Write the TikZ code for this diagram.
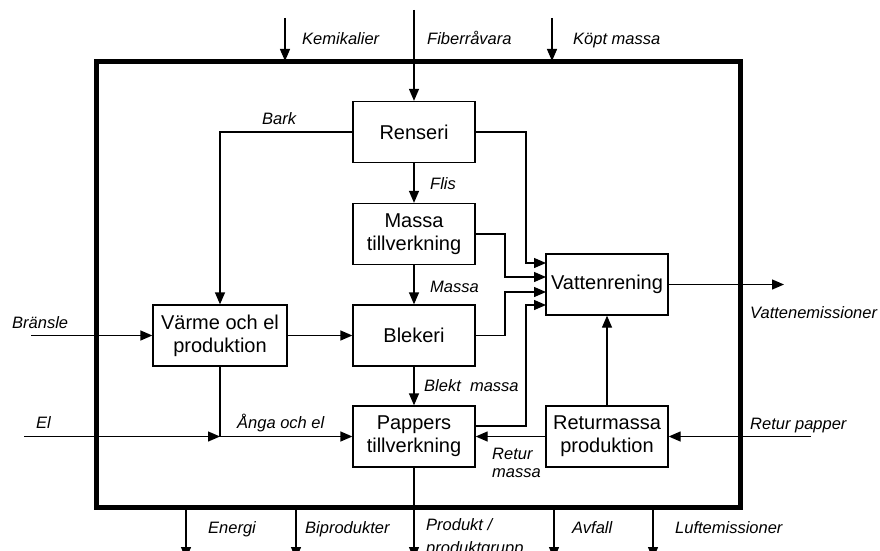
\documentclass[tikz,border=0pt]{standalone}
\usepackage{fontspec}
\setmainfont{Liberation Sans}
\usetikzlibrary{arrows.meta,calc}

\tikzset{
  flow/.style={line width=1.3pt, -{Triangle[length=12pt,width=10pt]}},
  plain/.style={line width=1.3pt},
  proc/.style={draw, line width=1.3pt, inner sep=0pt, align=center,
    minimum width=122pt, minimum height=61pt,
    font=\fontsize{20}{23}\selectfont},
  lbl/.style={anchor=base west, inner sep=0pt, align=left,
    font=\fontsize{16.5}{18.5}\selectfont\itshape},
}

\begin{document}
\begin{tikzpicture}[x=1pt, y=-1pt]
  \useasboundingbox (0,0) rectangle (880,551);

  % mill boundary
  \draw[line width=5pt] (96,61.5) rectangle (740,507);

  % process units
  \node[proc] (renseri) at (414,132) {Renseri};
  \node[proc] (massa)   at (414,234) {Massa\\tillverkning};
  \node[proc] (blekeri) at (414,335.5) {Blekeri};
  \node[proc] (pappers) at (414,436.5) {Pappers\\tillverkning};
  \node[proc, minimum width=134pt] (varme) at (220,335.5) {Värme och el\\produktion};
  \node[proc] (vatten)  at (607,284.5) {Vattenrening};
  \node[proc] (retur)   at (607,436.5) {Returmassa\\produktion};

  % free ends and junctions
  \coordinate (kemin)  at (285,18);
  \coordinate (kemend) at (285,61);
  \coordinate (fibin)  at (414,10);
  \coordinate (kopin)  at (552,18);
  \coordinate (kopend) at (552,61);
  \coordinate (brin)   at (31,335.5);
  \coordinate (elin)   at (24,436.5);
  \coordinate (jn)     at (220,436.5);
  \coordinate (rpin)   at (811,436.5);
  \coordinate (vout)   at (784,284.5);
  \coordinate (v1) at (546,263);
  \coordinate (v2) at (546,277);
  \coordinate (v3) at (546,292);
  \coordinate (v4) at (546,305);
  \coordinate (pap1) at (475,426);

  % inputs from above
  \draw[flow] (kemin) -- (kemend);
  \draw[flow] (fibin) -- (renseri.north);
  \draw[flow] (kopin) -- (kopend);

  % fibre line
  \draw[flow] (renseri.west) -| (varme.north);
  \draw[flow] (renseri) -- (massa);
  \draw[flow] (massa) -- (blekeri);
  \draw[flow] (blekeri) -- (pappers);

  % effluents to water treatment
  \draw[flow] (renseri.east) -| (526,263) -- (v1);
  \draw[flow] (massa.east) -| (505,277) -- (v2);
  \draw[flow] (blekeri.east) -| (505,292) -- (v3);
  \draw[flow] (pap1) -| (526,305) -- (v4);
  \draw[flow] (vatten.east) -- (vout);
  \draw[flow] (retur.north) -- (vatten.south);

  % energy
  \draw[flow] (brin) -- (varme.west);
  \draw[flow] (varme) -- (blekeri);
  \draw[plain] (varme.south) -- (jn);
  \draw[flow] (elin) -- (jn);
  \draw[flow] (jn) -- (pappers.west);

  % recovered paper
  \draw[flow] (rpin) -- (retur.east);
  \draw[flow] (retur.west) -- (pappers.east);

  % outputs below
  \draw[flow] (186,507) -- (186,559);
  \draw[flow] (296,507) -- (296,559);
  \draw[flow] (pappers.south) -- (414,559);
  \draw[flow] (554,507) -- (554,559);
  \draw[flow] (653,507) -- (653,559);

  % flow labels
  \node[lbl] (lkem) at (302,45) {Kemikalier};
  \node[lbl] (lfib) at (427,45) {Fiberråvara};
  \node[lbl] (lkop) at (573,45) {Köpt massa};
  \node[lbl] (lbark) at (262,124) {Bark};
  \node[lbl] (lflis) at (430,189) {Flis};
  \node[lbl] (lmassa) at (430,292) {Massa};
  \node[lbl] (lbr) at (12,328) {Bränsle};
  \node[lbl] (lel) at (36,428) {El};
  \node[lbl] (langa) at (237,428) {Ånga och el};
  \node[lbl] (lblekt) at (424,391) {Blekt\ \ massa};
  \node[lbl] (lrp) at (750,429) {Retur papper};
  \node[lbl, anchor=north west] (lrm) at (492,447.5) {Retur\\massa};
  \node[lbl] (lvat) at (750,318) {Vattenemissioner};
  \node[lbl] (lene) at (208,533) {Energi};
  \node[lbl] (lbip) at (305,533) {Biprodukter};
  \node[lbl, anchor=north west, font=\fontsize{16.5}{23}\selectfont\itshape]
    (lprod) at (426,518.5) {Produkt /\\produktgrupp};
  \node[lbl] (lavf) at (572,533) {Avfall};
  \node[lbl] (lluft) at (675,533) {Luftemissioner};
\end{tikzpicture}
\end{document}
